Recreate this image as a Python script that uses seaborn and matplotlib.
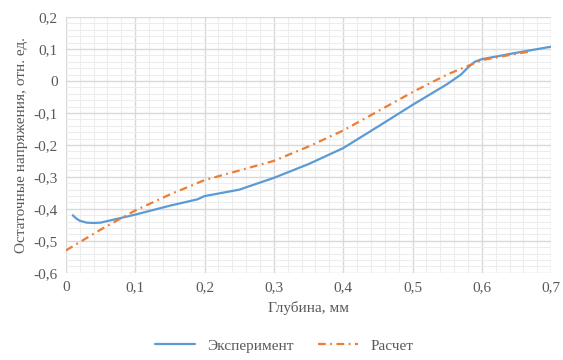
import numpy as np
import pandas as pd
import matplotlib
matplotlib.use('Agg')
import matplotlib.pyplot as plt
import seaborn as sns
from matplotlib.ticker import MultipleLocator, FuncFormatter

# Data
exp_x = [0.01, 0.015, 0.02, 0.03, 0.04, 0.05, 0.06, 0.08, 0.10, 0.15, 0.19, 0.20,
         0.25, 0.30, 0.35, 0.40, 0.45, 0.50, 0.55, 0.57, 0.58, 0.59, 0.60, 0.65, 0.70]
exp_y = [-0.420, -0.430, -0.437, -0.443, -0.444, -0.443, -0.438, -0.428, -0.418,
         -0.390, -0.370, -0.360, -0.340, -0.303, -0.260, -0.210, -0.143, -0.075,
         -0.010, 0.020, 0.042, 0.060, 0.068, 0.088, 0.107]
calc_x = [0.0, 0.05, 0.10, 0.15, 0.20, 0.25, 0.30, 0.35, 0.40, 0.45, 0.50, 0.55,
          0.60, 0.65, 0.67]
calc_y = [-0.530, -0.465, -0.405, -0.355, -0.310, -0.280, -0.250, -0.205, -0.155,
          -0.095, -0.035, 0.020, 0.065, 0.085, 0.092]

exp = pd.DataFrame({'x': exp_x, 'y': exp_y})
calc = pd.DataFrame({'x': calc_x, 'y': calc_y})

sns.set_style('white')
plt.rcParams['font.family'] = ['Liberation Serif', 'DejaVu Serif']

fig = plt.figure(figsize=(5.63, 3.6), dpi=100)
ax = fig.add_axes([0.117, 0.242, 0.862, 0.711])

sns.lineplot(data=exp, x='x', y='y', ax=ax, color='#5B9BD5', linewidth=1.6,
             label='Эксперимент', zorder=3)
sns.lineplot(data=calc, x='x', y='y', ax=ax, color='#ED7D31', linewidth=1.6,
             label='Расчет', zorder=4)
ax.lines[1].set_dashes([3.5, 2, 0.8, 2])

ax.set_xlim(0, 0.7)
ax.set_ylim(-0.6, 0.2)
ax.xaxis.set_major_locator(MultipleLocator(0.1))
ax.xaxis.set_minor_locator(MultipleLocator(0.02))
ax.yaxis.set_major_locator(MultipleLocator(0.1))
ax.yaxis.set_minor_locator(MultipleLocator(0.02))
fmt = FuncFormatter(lambda v, p: ('%g' % round(v, 2)).replace('.', ','))
ax.xaxis.set_major_formatter(fmt)
ax.yaxis.set_major_formatter(fmt)

ax.grid(which='major', color='#D9D9D9', linewidth=1.0)
ax.grid(which='minor', color='#EDEDED', linewidth=0.8)
ax.set_axisbelow(True)
for s in ax.spines.values():
    s.set_visible(False)
ax.tick_params(which='both', length=0, labelsize=11, colors='#595959', pad=6)

ax.set_xlabel('Глубина, мм', fontsize=11, color='#595959', labelpad=5)
ax.set_ylabel('Остаточные напряжения, отн. ед.', fontsize=11, color='#595959', labelpad=4)

leg = ax.legend(loc='upper center', bbox_to_anchor=(0.45, -0.235), ncol=2, frameon=False,
                fontsize=11, handlelength=2.6, columnspacing=1.6, borderaxespad=0)
for t in leg.get_texts():
    t.set_color('#595959')
leg.get_lines()[1].set_dashes([3.5, 2, 0.8, 2])

fig.savefig('out.png', dpi=100)
